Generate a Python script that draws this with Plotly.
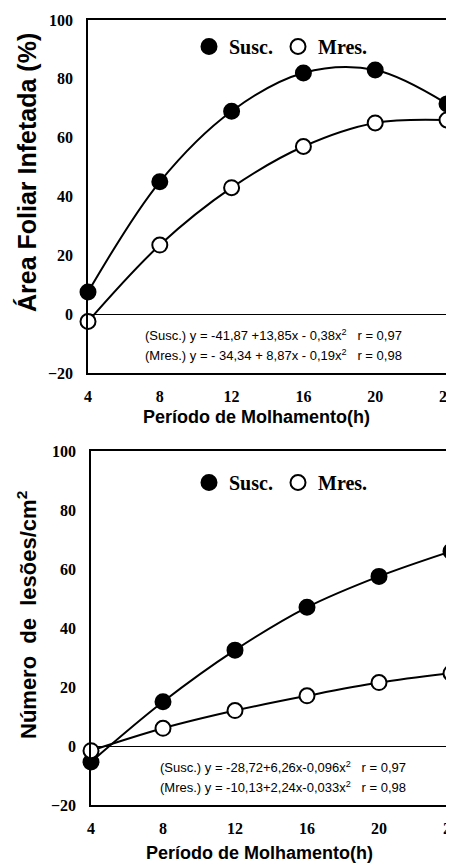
import plotly.graph_objects as go

# ---- data ----
hours = [4, 8, 12, 16, 20, 24]
afi_susc = [7.5, 45, 69, 82, 83, 71.5]
afi_mres = [-2.5, 23.5, 43, 57, 65, 66]
les_susc = [-5.4, 15, 32.5, 47, 57.5, 66]
les_mres = [-1.6, 6, 12, 17, 21.5, 24.7]
x_ticks = [4, 8, 12, 16, 20, 24]
y_ticks = [-20, 0, 20, 40, 60, 80, 100]
x_title = "Período de Molhamento(h)"
y_title_top = "Área Foliar Infetada (%)"
y_title_bot = "Número  de  lesões/cm<sup>2</sup>"
eq_top = ["(Susc.) y = -41,87 +13,85x - 0,38x<sup>2</sup>   r = 0,97",
          "(Mres.) y = - 34,34 + 8,87x - 0,19x<sup>2</sup>   r = 0,98"]
eq_bot = ["(Susc.) y = -28,72+6,26x-0,096x<sup>2</sup>   r = 0,97",
          "(Mres.) y = -10,13+2,24x-0,033x<sup>2</sup>   r = 0,98"]

# the page body adds an 8px offset; lay out in window pixels and compensate
OFF = 8
W, H = 454 - OFF, 863 - OFF
fig = go.Figure()

def add_series(xa, ya, ys, name, filled, legend):
    fig.add_trace(go.Scatter(x=hours, y=ys, mode="lines", line=dict(color="black", width=2, shape="spline", smoothing=1),
                             xaxis=xa, yaxis=ya, showlegend=False, hoverinfo="skip", cliponaxis=False))
    fig.add_trace(go.Scatter(x=hours, y=ys, mode="markers", name=name,
                             marker=dict(size=15, color="black" if filled else "white",
                                         line=dict(color="black", width=2)),
                             xaxis=xa, yaxis=ya, legend=legend, cliponaxis=False))

add_series("x", "y", afi_susc, "Susc.", True, "legend")
add_series("x", "y", afi_mres, "Mres.", False, "legend")
add_series("x2", "y2", les_susc, "Susc.", True, "legend2")
add_series("x2", "y2", les_mres, "Mres.", False, "legend2")

tickfont = dict(family="Liberation Serif", size=16, color="black", weight="bold")
titlefont = dict(family="Liberation Sans", size=18, color="black", weight="bold")

def px_x(p):
    return (p - OFF) / W

def px_y(p):
    return 1 - (p - OFF) / H

common_x = dict(range=[4, 24], tickvals=x_ticks, showline=True, mirror=True, linecolor="black", linewidth=1.5,
                showgrid=False, zeroline=False, ticks="", tickfont=tickfont, ticklabelstandoff=8,
                ticklabeloverflow="allow", automargin=False)
common_y = dict(range=[-20, 100], tickvals=y_ticks, showline=True, mirror=True, linecolor="black", linewidth=1.5,
                showgrid=False, zeroline=True, zerolinecolor="black", zerolinewidth=1.2, ticks="",
                tickfont=tickfont, ticklabelstandoff=10, ticklabeloverflow="allow", automargin=False)

legfont = dict(family="Liberation Serif", size=20, color="black", weight="bold")
fig.update_layout(
    width=W, height=H, margin=dict(l=0, r=0, t=0, b=0),
    paper_bgcolor="white", plot_bgcolor="white",
    xaxis=dict(domain=[px_x(88), px_x(447)], anchor="y", **common_x),
    yaxis=dict(domain=[px_y(373), px_y(20)], anchor="x", **common_y),
    xaxis2=dict(domain=[px_x(91), px_x(451)], anchor="y2", **common_x),
    yaxis2=dict(domain=[px_y(805), px_y(451)], anchor="x2", **common_y),
    legend=dict(orientation="h", x=px_x(189), y=px_y(27), xanchor="left", yanchor="top",
                font=legfont, bgcolor="rgba(0,0,0,0)", entrywidth=44, entrywidthmode="pixels"),
    legend2=dict(orientation="h", x=px_x(189), y=px_y(463), xanchor="left", yanchor="top",
                 font=legfont, bgcolor="rgba(0,0,0,0)", entrywidth=44, entrywidthmode="pixels"),
)

# axis titles
fig.add_annotation(text=x_title, xref="paper", yref="paper", x=px_x(256), y=px_y(417),
                   xanchor="center", yanchor="middle", showarrow=False, font=titlefont)
fig.add_annotation(text=x_title, xref="paper", yref="paper", x=px_x(260), y=px_y(853),
                   xanchor="center", yanchor="middle", showarrow=False, font=titlefont)
fig.add_annotation(text=y_title_top, xref="paper", yref="paper", x=px_x(27), y=px_y(173),
                   xanchor="center", yanchor="middle", showarrow=False, textangle=-90,
                   font=dict(titlefont, size=25))
fig.add_annotation(text=y_title_bot, xref="paper", yref="paper", x=px_x(27), y=px_y(615),
                   xanchor="center", yanchor="middle", showarrow=False, textangle=-90,
                   font=dict(titlefont, size=22))

eqfont = dict(family="Liberation Sans", size=13, color="black")
for i, t in enumerate(eq_top):
    fig.add_annotation(text=t, xref="paper", yref="paper", x=px_x(143), y=px_y(335 + 20 * i),
                       xanchor="left", yanchor="middle", showarrow=False, font=eqfont)
for i, t in enumerate(eq_bot):
    fig.add_annotation(text=t, xref="paper", yref="paper", x=px_x(158), y=px_y(767 + 20 * i),
                       xanchor="left", yanchor="middle", showarrow=False, font=eqfont)

fig.write_html("out.html")
